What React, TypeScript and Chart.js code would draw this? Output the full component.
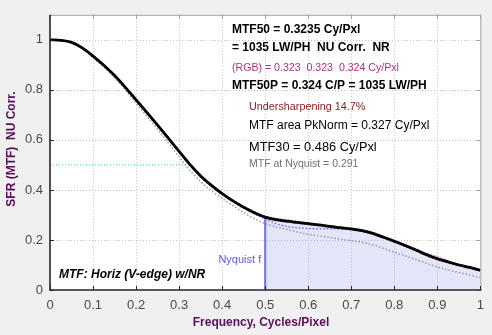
import React, { useEffect, useRef } from "react";
import { Chart, registerables } from "chart.js";

Chart.register(...registerables);

const FREQ = [0, 0.025, 0.05, 0.075, 0.1, 0.125, 0.15, 0.175, 0.2, 0.225, 0.25, 0.275, 0.3, 0.325, 0.35, 0.375, 0.4, 0.425, 0.45, 0.475, 0.5, 0.525, 0.55, 0.575, 0.6, 0.625, 0.65, 0.675, 0.7, 0.725, 0.75, 0.775, 0.8, 0.825, 0.85, 0.875, 0.9, 0.925, 0.95, 0.975, 1.0];
const MTF_BLACK = [1.0, 0.998, 0.99, 0.968, 0.935, 0.898, 0.857, 0.81, 0.76, 0.71, 0.659, 0.607, 0.554, 0.502, 0.456, 0.418, 0.385, 0.356, 0.331, 0.309, 0.291, 0.281, 0.275, 0.27, 0.265, 0.26, 0.254, 0.249, 0.244, 0.237, 0.226, 0.211, 0.195, 0.178, 0.16, 0.141, 0.125, 0.112, 0.1, 0.09, 0.079];
const MTF_RED = [1.0, 0.998, 0.99, 0.969, 0.937, 0.9, 0.859, 0.812, 0.762, 0.712, 0.661, 0.609, 0.556, 0.504, 0.459, 0.421, 0.388, 0.359, 0.334, 0.312, 0.295, 0.286, 0.28, 0.274, 0.268, 0.262, 0.256, 0.251, 0.246, 0.24, 0.229, 0.214, 0.198, 0.181, 0.164, 0.146, 0.13, 0.116, 0.103, 0.092, 0.081];
const MTF_GREEN = [1.0, 0.998, 0.99, 0.968, 0.934, 0.897, 0.856, 0.809, 0.759, 0.709, 0.658, 0.606, 0.553, 0.501, 0.455, 0.417, 0.384, 0.355, 0.33, 0.308, 0.29, 0.28, 0.274, 0.268, 0.262, 0.257, 0.251, 0.246, 0.241, 0.234, 0.223, 0.208, 0.192, 0.175, 0.157, 0.137, 0.121, 0.109, 0.098, 0.088, 0.077];
const MTF_BLUE = [1.0, 0.998, 0.991, 0.97, 0.937, 0.899, 0.857, 0.809, 0.758, 0.707, 0.656, 0.604, 0.551, 0.499, 0.452, 0.414, 0.382, 0.353, 0.327, 0.304, 0.284, 0.265, 0.254, 0.249, 0.246, 0.245, 0.245, 0.244, 0.243, 0.238, 0.229, 0.214, 0.198, 0.181, 0.163, 0.146, 0.132, 0.117, 0.103, 0.092, 0.08];
const MTF_GRAY = [1.0, 0.998, 0.988, 0.964, 0.929, 0.891, 0.849, 0.8, 0.747, 0.695, 0.642, 0.588, 0.532, 0.478, 0.433, 0.397, 0.366, 0.337, 0.31, 0.285, 0.265, 0.252, 0.243, 0.232, 0.223, 0.216, 0.21, 0.203, 0.197, 0.19, 0.181, 0.166, 0.151, 0.137, 0.122, 0.107, 0.092, 0.08, 0.07, 0.06, 0.05];

const NYQUIST_F = 0.5;
const MTF_AT_NYQ = 0.291;
const MTF50_F = 0.3235;
const MTF50_LEVEL = 0.5;

const X_TICKS = [0, 0.1, 0.2, 0.3, 0.4, 0.5, 0.6, 0.7, 0.8, 0.9, 1];
const Y_TICKS = [0, 0.2, 0.4, 0.6, 0.8, 1];

const TEXT_LINES = [
  { t: "MTF50 = 0.3235 Cy/Pxl", x: 232, y: 30, font: "bold 12px 'Liberation Sans', Arial", c: "#000000" },
  { t: "= 1035 LW/PH  NU Corr.  NR", x: 232, y: 48, font: "bold 12px 'Liberation Sans', Arial", c: "#000000" },
  { t: "(RGB) = 0.323  0.323  0.324 Cy/Pxl", x: 232, y: 68, font: "10.6px 'Liberation Sans', Arial", c: "#b0307f" },
  { t: "MTF50P = 0.324 C/P = 1035 LW/PH", x: 232, y: 86, font: "bold 12px 'Liberation Sans', Arial", c: "#000000" },
  { t: "Undersharpening 14.7%", x: 249, y: 107, font: "10.8px 'Liberation Sans', Arial", c: "#8b1a1a" },
  { t: "MTF area PkNorm = 0.327 Cy/Pxl", x: 249, y: 126, font: "12px 'Liberation Sans', Arial", c: "#000000" },
  { t: "MTF30 = 0.486 Cy/Pxl", x: 249, y: 147, font: "12.8px 'Liberation Sans', Arial", c: "#000000" },
  { t: "MTF at Nyquist = 0.291", x: 249, y: 164, font: "10.5px 'Liberation Sans', Arial", c: "#707070" },
  { t: "MTF: Horiz (V-edge) w/NR", x: 59, y: 275, font: "italic bold 12px 'Liberation Sans', Arial", c: "#000000" },
];

const pts = (ys: number[]) => FREQ.map((f, i) => ({ x: f, y: ys[i] }));

export default function App() {
  const ref = useRef<HTMLCanvasElement | null>(null);
  useEffect(() => {
    if (!ref.current) return;
    const fillPts = pts(MTF_BLACK).filter((p) => p.x >= NYQUIST_F);
    const frame = {
      id: "frame",
      beforeDraw(chart: any) {
        const { ctx, chartArea: a } = chart;
        ctx.save();
        ctx.fillStyle = "#f0f0f0";
        ctx.fillRect(0, 0, chart.width, chart.height);
        ctx.fillStyle = "#ffffff";
        ctx.fillRect(a.left, a.top, a.right - a.left, a.bottom - a.top);
        ctx.restore();
      },
      beforeDatasetsDraw(chart: any) {
        const { ctx, chartArea: a, scales } = chart;
        ctx.save();
        ctx.strokeStyle = "#c0c0c0";
        ctx.lineWidth = 1;
        ctx.setLineDash([1, 2]);
        ctx.beginPath();
        X_TICKS.slice(1, -1).forEach((v) => {
          const px = Math.round(scales.x.getPixelForValue(v)) + 0.5;
          ctx.moveTo(px, a.top);
          ctx.lineTo(px, a.bottom);
        });
        Y_TICKS.slice(1).forEach((v) => {
          const py = Math.round(scales.y.getPixelForValue(v)) + 0.5;
          ctx.moveTo(a.left, py);
          ctx.lineTo(a.right, py);
        });
        ctx.stroke();
        ctx.restore();
      },
      afterDraw(chart: any) {
        const { ctx, chartArea: a, scales } = chart;
        ctx.save();
        ctx.strokeStyle = "#a0a0a0";
        ctx.lineWidth = 1;
        ctx.beginPath();
        ctx.moveTo(a.left, a.top + 0.5);
        ctx.lineTo(a.right + 0.5, a.top + 0.5);
        ctx.lineTo(a.right + 0.5, a.bottom);
        ctx.stroke();
        ctx.beginPath();
        X_TICKS.forEach((v) => {
          const px = Math.round(scales.x.getPixelForValue(v)) + 0.5;
          ctx.moveTo(px, a.top);
          ctx.lineTo(px, a.top + 4);
        });
        Y_TICKS.forEach((v) => {
          const py = Math.round(scales.y.getPixelForValue(v)) + 0.5;
          ctx.moveTo(a.right, py);
          ctx.lineTo(a.right - 4, py);
        });
        ctx.stroke();
        ctx.strokeStyle = "#262626";
        ctx.lineWidth = 1.6;
        ctx.beginPath();
        ctx.moveTo(a.left, a.top);
        ctx.lineTo(a.left, a.bottom);
        ctx.lineTo(a.right + 1, a.bottom);
        ctx.stroke();
        ctx.lineWidth = 1;
        ctx.beginPath();
        X_TICKS.forEach((v) => {
          const px = Math.round(scales.x.getPixelForValue(v)) + 0.5;
          ctx.moveTo(px, a.bottom);
          ctx.lineTo(px, a.bottom - 4);
        });
        Y_TICKS.forEach((v) => {
          const py = Math.round(scales.y.getPixelForValue(v)) + 0.5;
          ctx.moveTo(a.left, py);
          ctx.lineTo(a.left + 4, py);
        });
        ctx.stroke();
        ctx.textBaseline = "middle";
        ctx.textAlign = "left";
        TEXT_LINES.forEach((l) => {
          ctx.font = l.font;
          ctx.fillStyle = l.c;
          ctx.fillText(l.t, l.x, l.y);
        });
        ctx.font = "11px 'Liberation Sans', Arial";
        ctx.fillStyle = "#5b5bd6";
        ctx.textAlign = "right";
        ctx.fillText("Nyquist f", scales.x.getPixelForValue(NYQUIST_F) - 4, 260);
        ctx.font = "bold 12px 'Liberation Sans', Arial";
        ctx.fillStyle = "#5a0e5a";
        ctx.textAlign = "center";
        ctx.fillText("Frequency, Cycles/Pixel", 261, 323);
        ctx.translate(12, 149);
        ctx.rotate(-Math.PI / 2);
        ctx.fillText("SFR (MTF)  NU Corr.", 0, 0);
        ctx.restore();
      },
    };

    const chart = new Chart(ref.current, {
      type: "line",
      data: {
        datasets: [
          { data: pts(MTF_BLACK), borderColor: "#000000", borderWidth: 2.8, order: 0 },
          { data: pts(MTF_RED), borderColor: "#ff3a3a", borderWidth: 1.5, borderDash: [1.5, 2], order: 2 },
          { data: pts(MTF_GREEN), borderColor: "#10a010", borderWidth: 1.5, borderDash: [1.5, 2], order: 3 },
          { data: pts(MTF_BLUE), borderColor: "#6a6aff", borderWidth: 1.5, borderDash: [1.5, 2], order: 1 },
          { data: pts(MTF_GRAY), borderColor: "#9a9a9a", borderWidth: 1.5, borderDash: [1.5, 2], order: 4 },
          { data: [{ x: 0, y: MTF50_LEVEL }, { x: MTF50_F, y: MTF50_LEVEL }], borderColor: "#40e6e6", borderWidth: 1.3, borderDash: [1, 2], order: 5, tension: 0 },
          { data: [{ x: NYQUIST_F, y: 0 }, { x: NYQUIST_F, y: MTF_AT_NYQ }], borderColor: "#7a7ae0", borderWidth: 2.2, order: 6, tension: 0 },
          { data: fillPts, borderWidth: 0, borderColor: "rgba(0,0,0,0)", backgroundColor: "rgba(170,170,240,0.3)", fill: "origin", order: 10 },
        ],
      },
      options: {
        responsive: false,
        animation: false,
        layout: { padding: { left: 0, right: 10, top: 10, bottom: 0 } },
        plugins: { legend: { display: false }, tooltip: { enabled: false } },
        elements: { point: { radius: 0 }, line: { cubicInterpolationMode: "monotone", fill: false } },
        scales: {
          x: {
            type: "linear",
            min: 0,
            max: 1,
            afterBuildTicks: (s: any) => { s.ticks = X_TICKS.map((v) => ({ value: v })); },
            afterFit: (s: any) => { s.height = 45; },
            ticks: {
              callback: (v: any) => String(Number(v).toFixed(1)).replace(/\.0$/, ""),
              color: "#4a4a4a",
              font: { family: "'Liberation Sans', Arial", size: 13 },
              padding: 8,
              maxRotation: 0,
            },
            grid: { display: false, drawTicks: false },
            border: { display: false },
          },
          y: {
            type: "linear",
            min: 0,
            max: 1.1,
            afterBuildTicks: (s: any) => { s.ticks = Y_TICKS.map((v) => ({ value: v })); },
            afterFit: (s: any) => { s.width = 50; },
            ticks: {
              callback: (v: any) => String(Number(v).toFixed(1)).replace(/\.0$/, ""),
              color: "#4a4a4a",
              font: { family: "'Liberation Sans', Arial", size: 13 },
              padding: 7,
            },
            grid: { display: false, drawTicks: false },
            border: { display: false },
          },
        },
      },
      plugins: [frame],
    } as any);
    return () => chart.destroy();
  }, []);

  return (
    <div style={{ position: "fixed", left: 0, top: 0, width: 492, height: 335 }}>
      <canvas ref={ref} width={492} height={335} style={{ display: "block" }} />
    </div>
  );
}
